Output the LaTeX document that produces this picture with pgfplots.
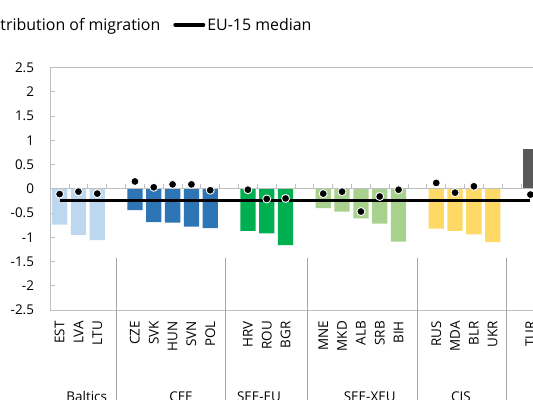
\documentclass[border=0pt]{standalone}
\usepackage{pgfplots}
\pgfplotsset{compat=1.18}
\usepackage{fontspec}
\setmainfont{Open Sans}
\definecolor{baltic}{HTML}{BDD7EE}
\definecolor{cee}{HTML}{2E75B6}
\definecolor{seeeu}{HTML}{00B050}
\definecolor{seexeu}{HTML}{A9D18E}
\definecolor{cis}{HTML}{FFD966}
\definecolor{tur}{HTML}{595959}
\definecolor{axgray}{HTML}{BFBFBF}
\definecolor{sepgray}{HTML}{A6A6A6}
\begin{document}
\begin{tikzpicture}
\path[use as bounding box] (-50.2bp,-90bp) rectangle (482.8bp,310bp);
\clip (-50.2bp,-90bp) rectangle (482.8bp,310bp);
\begin{axis}[
  at={(0,0)}, anchor=south west,
  scale only axis, width=489.6bp, height=242.5bp,
  xmin=-0.5, xmax=25.5, ymin=-2.5, ymax=2.5,
  axis line style={axgray, line width=0.8bp},
  xtick={0,1,2,4,5,6,7,8,10,11,12,14,15,16,17,18,20,21,22,23,25},
  xticklabels={EST,LVA,LTU,CZE,SVK,HUN,SVN,POL,HRV,ROU,BGR,MNE,MKD,ALB,SRB,BIH,RUS,MDA,BLR,UKR,TUR},
  xtick style={draw=none},
  xticklabel style={rotate=90, anchor=east, inner sep=0pt},
  xticklabel shift=11bp,
  ytick={-2.5,-2,-1.5,-1,-0.5,0,0.5,1,1.5,2,2.5},
  yticklabels={-2.5,-2,-1.5,-1,-0.5,0,0.5,1,1.5,2,2.5},
  ytick pos=left, tick align=inside, major tick length=5bp,
  ytick style={axgray, line width=0.8bp},
  yticklabel style={anchor=east, inner sep=0pt},
  yticklabel shift=16bp,
  tick label style={font=\fontsize{13.5}{16}\selectfont},
  clip=false,
  legend columns=-1,
  legend style={at={(0.5341,1.176)}, anchor=east, draw=none, fill=none,
    inner sep=0pt, nodes={inner sep=0pt},
    font=\fontsize{16}{19}\selectfont,
    /tikz/every odd column/.append style={column sep=2bp},
    /tikz/every even column/.append style={column sep=13bp}},
]
% bars
\addplot[ybar, bar width=15.3bp, fill=baltic, draw=none, forget plot] coordinates {(0,-0.74) (1,-0.95) (2,-1.06)};
\addplot[ybar, bar width=15.3bp, fill=cee, draw=none, forget plot] coordinates {(4,-0.44) (5,-0.69) (6,-0.70) (7,-0.78) (8,-0.81)};
\addplot[ybar, bar width=15.3bp, fill=seeeu, draw=none, forget plot] coordinates {(10,-0.87) (11,-0.92) (12,-1.16)};
\addplot[ybar, bar width=15.3bp, fill=seexeu, draw=none, forget plot] coordinates {(14,-0.40) (15,-0.47) (16,-0.61) (17,-0.72) (18,-1.09)};
\addplot[ybar, bar width=15.3bp, fill=cis, draw=none, forget plot] coordinates {(20,-0.82) (21,-0.87) (22,-0.94) (23,-1.10)};
\addplot[ybar, bar width=15.3bp, fill=tur, draw=none, forget plot] coordinates {(25,0.81)};
% zero axis with ticks
\draw[axgray, line width=0.8bp] (axis cs:-0.5,0) -- (axis cs:25.5,0);
\pgfplotsinvokeforeach{0.5,1.5,...,24.5}{\draw[axgray, line width=0.8bp] (axis cs:#1,0) -- ([yshift=5bp]axis cs:#1,0);}
% EU-15 median
\addplot[black, line width=3.6bp, forget plot] coordinates {(0,-0.24) (25,-0.24)};
% contribution of migration
\addplot[only marks, mark=*, mark size=4bp, mark options={fill=black, draw=white, line width=0.9bp}, forget plot] coordinates {
 (0,-0.11) (1,-0.06) (2,-0.10)
 (4,0.15) (5,0.03) (6,0.09) (7,0.09) (8,-0.03)
 (10,-0.02) (11,-0.21) (12,-0.20)
 (14,-0.10) (15,-0.06) (16,-0.47) (17,-0.16) (18,-0.02)
 (20,0.12) (21,-0.08) (22,0.05)
 (25,-0.12)};
\addlegendimage{only marks, mark=*, mark size=4bp, mark options={fill=black, draw=white, line width=0.9bp}}
\addlegendentry{Contribution of migration}
\addlegendimage{legend image code/.code={\draw[black, line width=4bp, line cap=round] (2bp,0bp) -- (30bp,0bp);}}
\addlegendentry{EU-15 median}
\end{axis}
% group separators and labels
\foreach \x in {65.8,175.5,257.1,367.5,456.5}
  \draw[sepgray, line width=0.8bp] (\x bp,52bp) -- (\x bp,-100bp);
\begin{scope}[every node/.style={anchor=base, inner sep=0pt, font=\fontsize{13.5}{16}\selectfont}]
\node at (36.5bp,-91.5bp) {Baltics};
\node at (130.8bp,-91.5bp) {CEE};
\node at (208.8bp,-91.5bp) {SEE-EU};
\node at (319.5bp,-91.5bp) {SEE-XEU};
\node at (410.8bp,-91.5bp) {CIS};
\end{scope}
\end{tikzpicture}
\end{document}
